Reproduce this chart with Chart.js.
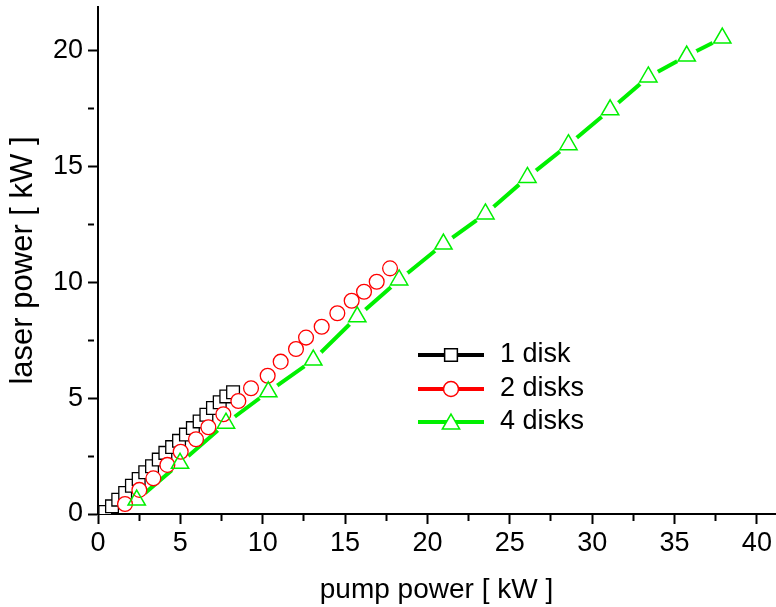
<!DOCTYPE html>
<html>
<head>
<meta charset="utf-8">
<script src="https://cdn.jsdelivr.net/npm/chart.js@4.4.1/dist/chart.umd.min.js"></script>
<style>
  html, body { margin: 0; padding: 0; background: #fff; }
  #caixa { width: 776px; height: 607px; }
</style>
</head>
<body>
<div id="caixa"><canvas id="grafico"></canvas></div>
<script>
// valores (kW)
var pump1 = [0.44, 0.85, 1.23, 1.65, 2.06, 2.47, 2.87, 3.28, 3.69, 4.09, 4.50, 4.92, 5.34, 5.76, 6.17, 6.58, 6.98, 7.39, 7.79, 8.20];
var laser1 = [0.09, 0.33, 0.62, 0.91, 1.22, 1.51, 1.80, 2.06, 2.35, 2.64, 2.89, 3.16, 3.43, 3.71, 4.00, 4.29, 4.58, 4.83, 5.08, 5.26];

var pump2 = [1.64, 2.51, 3.36, 4.21, 5.02, 5.95, 6.70, 7.61, 8.52, 9.29, 10.30, 11.09, 12.02, 12.63, 13.58, 14.53, 15.40, 16.15, 16.92, 17.73];
var laser2 = [0.43, 1.04, 1.54, 2.12, 2.69, 3.23, 3.75, 4.31, 4.88, 5.43, 5.97, 6.58, 7.13, 7.62, 8.09, 8.67, 9.21, 9.60, 10.03, 10.61];

var pump4 = [2.35, 4.98, 7.77, 10.34, 13.07, 15.74, 18.28, 20.97, 23.52, 26.07, 28.56, 31.09, 33.41, 35.74, 37.90];
var laser4 = [0.60, 2.19, 3.92, 5.28, 6.65, 8.52, 10.11, 11.66, 12.96, 14.54, 15.95, 17.46, 18.88, 19.78, 20.56];

var nomes = ['1 disk', '2 disks', '4 disks'];

var verde = 'rgb(0,240,0)';
var vermelho = 'rgb(255,0,0)';
var preto = '#000';
var fonte = '"Liberation Sans", Arial, sans-serif';

function pontos(xs, ys) {
    var lista = [];
    for (var i = 0; i < xs.length; i++) {
        lista.push({ x: xs[i], y: ys[i] });
    }
    return lista;
}

function ehMaior(v) {
    return Math.abs(v / 5 - Math.round(v / 5)) < 1e-6;
}

// legenda no estilo do Origin: linha - simbolo - linha
var legendaOrigin = {
    id: 'legendaOrigin',
    afterDraw: function (chart) {
        var ctx = chart.ctx;
        var estilos = [
            { cor: preto, simbolo: 'rect', raio: 9 },
            { cor: vermelho, simbolo: 'circle', raio: 7.5 },
            { cor: verde, simbolo: 'triangle', raio: 10 }
        ];
        var x0 = 418, x1 = 484, xs = 451, xt = 500;
        var linhasY = [355, 389, 422];
        for (var i = 0; i < estilos.length; i++) {
            var y = linhasY[i];
            ctx.save();
            ctx.strokeStyle = estilos[i].cor;
            ctx.lineWidth = 4;
            ctx.beginPath();
            ctx.moveTo(x0, y);
            ctx.lineTo(x1, y);
            ctx.stroke();
            ctx.fillStyle = '#fff';
            ctx.lineWidth = 1.5;
            Chart.helpers.drawPoint(ctx, { pointStyle: estilos[i].simbolo, radius: estilos[i].raio, rotation: 0, borderWidth: 1.5 }, xs, estilos[i].simbolo == 'triangle' ? y + 2 : y);
            ctx.fillStyle = '#000';
            ctx.font = '27px ' + fonte;
            ctx.textBaseline = 'middle';
            ctx.textAlign = 'left';
            ctx.fillText(nomes[i], xt, y);
            ctx.restore();
        }
    }
};

Chart.defaults.font.family = fonte;
Chart.defaults.color = '#000';

var graficoPotencia = document.getElementById('grafico');

new Chart(graficoPotencia, {
    type: 'scatter',
    data: {
        datasets: [{
            label: nomes[0],
            data: pontos(pump1, laser1),
            showLine: false,
            pointStyle: 'rect',
            pointRadius: 9,
            pointBorderWidth: 1.3,
            borderColor: preto,
            pointBorderColor: preto,
            pointBackgroundColor: '#fff',
            order: 4
        }, {
            label: nomes[1],
            data: pontos(pump2, laser2),
            showLine: false,
            pointStyle: 'circle',
            pointRadius: 7.4,
            pointBorderWidth: 1.3,
            borderColor: vermelho,
            pointBorderColor: vermelho,
            pointBackgroundColor: '#fff',
            order: 3
        }, {
            label: nomes[2],
            data: pontos(pump4, laser4),
            showLine: false,
            pointStyle: 'triangle',
            pointRadius: 10,
            pointBorderWidth: 1.5,
            borderColor: verde,
            pointBorderColor: verde,
            pointBackgroundColor: 'rgba(255,255,255,0)',
            order: 2
        }, {
            // espaco branco em volta dos triangulos (gap to symbol)
            label: 'gap',
            data: pontos(pump4, laser4),
            showLine: false,
            pointStyle: 'circle',
            pointRadius: 11,
            pointBorderWidth: 0,
            borderColor: '#fff',
            pointBackgroundColor: '#fff',
            order: 5
        }, {
            label: 'linha 4 disks',
            data: pontos(pump4, laser4),
            showLine: true,
            pointRadius: 0,
            borderColor: verde,
            borderWidth: 4,
            tension: 0,
            order: 6
        }]
    },
    options: {
        responsive: true,
        maintainAspectRatio: false,
        animation: false,
        events: [],
        layout: { autoPadding: false, padding: { left: 0, right: 1, top: 7, bottom: 0 } },
        plugins: {
            legend: { display: false },
            tooltip: { enabled: false }
        },
        scales: {
            x: {
                type: 'linear',
                min: 0,
                max: 41.1,
                afterFit: function (scale) {
                    scale.height = 93;
                    scale.paddingLeft = 0;
                    scale.paddingRight = 0;
                },
                border: { display: true, color: preto, width: 2 },
                grid: {
                    drawOnChartArea: false,
                    drawTicks: true,
                    tickLength: 10,
                    tickColor: preto,
                    tickWidth: 2,
                    tickBorderDash: function (c) { return (c.tick && ehMaior(c.tick.value)) ? [] : [6, 100]; }
                },
                ticks: {
                    stepSize: 2.5,
                    includeBounds: false,
                    maxRotation: 0,
                    autoSkip: false,
                    padding: 3,
                    font: { size: 27 },
                    callback: function (v) { return ehMaior(v) ? String(v) : ''; }
                },
                title: {
                    display: true,
                    text: 'pump power [ kW ]',
                    font: { size: 28 },
                    padding: { top: 0, bottom: 0 }
                }
            },
            y: {
                type: 'linear',
                min: 0,
                max: 21.9,
                afterFit: function (scale) {
                    scale.width = 98;
                    scale.paddingTop = 0;
                    scale.paddingBottom = 0;
                },
                border: { display: true, color: preto, width: 2 },
                grid: {
                    drawOnChartArea: false,
                    drawTicks: true,
                    tickLength: 10,
                    tickColor: preto,
                    tickWidth: 2,
                    tickBorderDash: function (c) { return (c.tick && ehMaior(c.tick.value)) ? [] : [6, 100]; }
                },
                ticks: {
                    stepSize: 2.5,
                    includeBounds: false,
                    autoSkip: false,
                    padding: 5,
                    font: { size: 27 },
                    callback: function (v) { return ehMaior(v) ? String(v) : ''; }
                },
                title: {
                    display: true,
                    text: 'laser power [ kW ]',
                    font: { size: 31 },
                    padding: { top: 5, bottom: 0 }
                }
            }
        }
    },
    plugins: [legendaOrigin]
});
</script>
</body>
</html>
